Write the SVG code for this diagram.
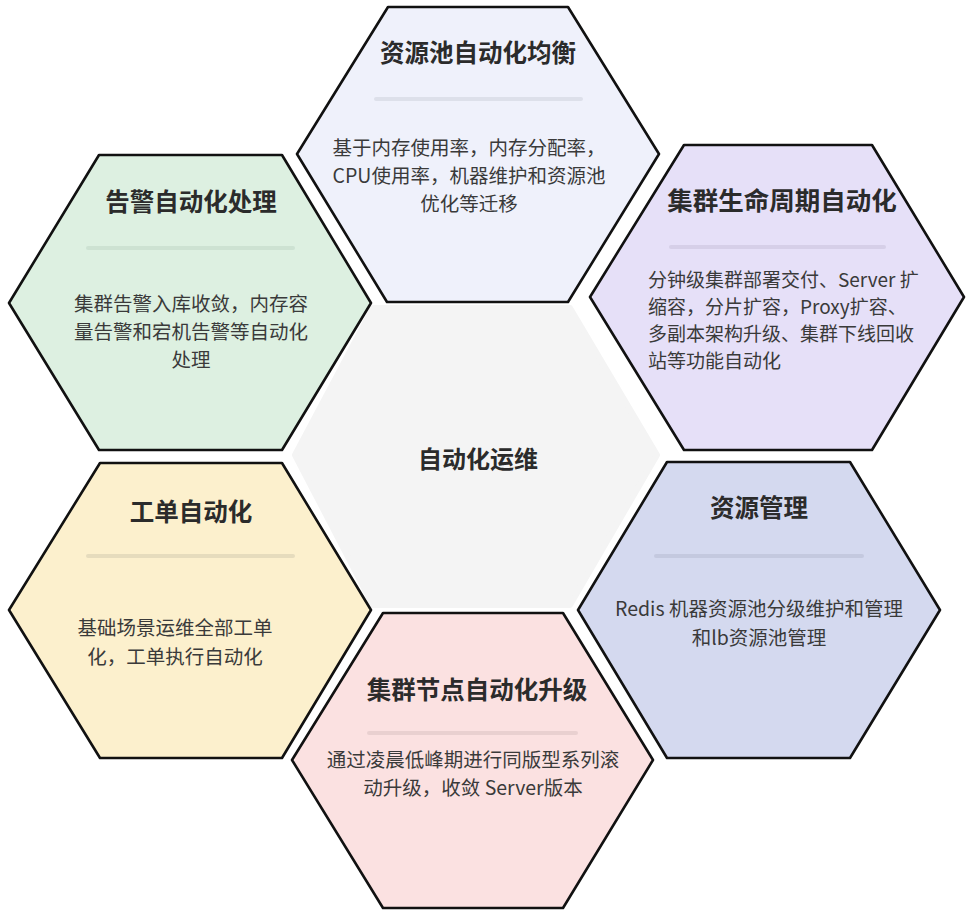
<svg xmlns="http://www.w3.org/2000/svg" width="972" height="922" viewBox="0 0 972 922">
<style>
.hex{stroke:#111;stroke-width:2.6;stroke-linejoin:round}
.t{font-family:"Noto Sans CJK SC","Noto Sans",sans-serif;font-weight:bold;font-size:24.5px;fill:#2b2b2b;text-anchor:middle}
.b{font-family:"Noto Sans CJK SC","Noto Sans",sans-serif;font-size:19.5px;fill:#3a3a3a;text-anchor:middle}
.bl{font-family:"Noto Sans CJK SC","Noto Sans",sans-serif;font-size:19px;fill:#3a3a3a;text-anchor:start}
.sep{stroke-width:4;stroke-linecap:round}
</style>
<rect width="972" height="922" fill="#ffffff"/>
<g id="center">
<polygon points="373,308 570,308 657,455 570,605 373,605 295,455" fill="#f4f4f4" stroke="#f4f4f4" stroke-width="6" stroke-linejoin="round"/>
<text class="t" x="478" y="468" style="font-size:24px">自动化运维</text>
</g>
<g id="pool-balance">
<polygon class="hex" points="388,7 568,7 659,154 568,302 387,302 297,154" fill="#eff1fb"/>
<text class="t" x="478" y="62">资源池自动化均衡</text>
<line class="sep" x1="376" y1="99" x2="581" y2="99" stroke="#dde0ea"/>
<text class="b" x="469" y="155">基于内存使用率，内存分配率，</text>
<text class="b" x="469" y="183">CPU使用率，机器维护和资源池</text>
<text class="b" x="469" y="211">优化等迁移</text>
</g>
<g id="alarm">
<polygon class="hex" points="99,155 282,155 371,303 282,450 99,450 9,303" fill="#ddf0e1"/>
<text class="t" x="191" y="211">告警自动化处理</text>
<line class="sep" x1="88" y1="248" x2="293" y2="248" stroke="#cde2d2"/>
<text class="b" x="191" y="311">集群告警入库收敛，内存容</text>
<text class="b" x="191" y="339">量告警和宕机告警等自动化</text>
<text class="b" x="191" y="367">处理</text>
</g>
<g id="lifecycle">
<polygon class="hex" points="684,145 872,145 964,297 872,450 684,450 590,297" fill="#e6e0f8"/>
<text class="t" x="782" y="210" style="font-size:25.5px">集群生命周期自动化</text>
<line class="sep" x1="671" y1="247" x2="884" y2="247" stroke="#d6cfe8"/>
<text class="bl" x="648" y="287">分钟级集群部署交付、Server 扩</text>
<text class="bl" x="648" y="314">缩容，分片扩容，Proxy扩容、</text>
<text class="bl" x="648" y="341">多副本架构升级、集群下线回收</text>
<text class="bl" x="648" y="368">站等功能自动化</text>
</g>
<g id="ticket">
<polygon class="hex" points="100,463 282,463 371,610 282,758 100,758 9,610" fill="#fcf0cd"/>
<text class="t" x="191" y="521">工单自动化</text>
<line class="sep" x1="88" y1="556" x2="293" y2="556" stroke="#e6dcbd"/>
<text class="b" x="175" y="635">基础场景运维全部工单</text>
<text class="b" x="175" y="664">化，工单执行自动化</text>
</g>
<g id="resource">
<polygon class="hex" points="667,462 850,462 940,610 850,758 667,758 578,610" fill="#d4d9ef"/>
<text class="t" x="759" y="517">资源管理</text>
<line class="sep" x1="656" y1="556" x2="862" y2="556" stroke="#c4c9df"/>
<text class="b" x="759" y="616">Redis 机器资源池分级维护和管理</text>
<text class="b" x="759" y="645">和lb资源池管理</text>
</g>
<g id="upgrade">
<polygon class="hex" points="383,613 563,613 653,760 563,908 383,908 292,760" fill="#fbe1e1"/>
<text class="t" x="477" y="699">集群节点自动化升级</text>
<line class="sep" x1="369" y1="733" x2="576" y2="733" stroke="#e9d0d0"/>
<text class="b" x="473" y="767">通过凌晨低峰期进行同版型系列滚</text>
<text class="b" x="473" y="795">动升级，收敛 Server版本</text>
</g>
<g id="connectors"></g>
</svg>
